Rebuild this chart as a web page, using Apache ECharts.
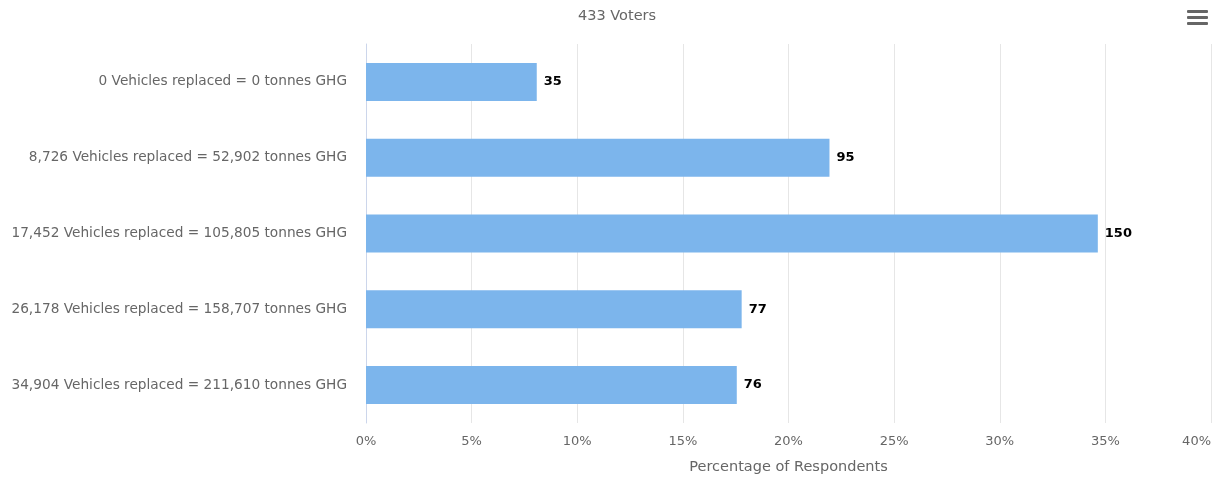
<!DOCTYPE html>
<html><head><meta charset="utf-8">
<script src="https://cdn.jsdelivr.net/npm/echarts@6/dist/echarts.min.js"></script>
<style>html,body{margin:0;padding:0;background:#fff}#c{width:1217px;height:479px}</style>
</head><body><div id="c"></div>
<script>
const categories = [
  "0 Vehicles replaced = 0 tonnes GHG",
  "8,726 Vehicles replaced = 52,902 tonnes GHG",
  "17,452 Vehicles replaced = 105,805 tonnes GHG",
  "26,178 Vehicles replaced = 158,707 tonnes GHG",
  "34,904 Vehicles replaced = 211,610 tonnes GHG"
];
const counts = [35, 95, 150, 77, 76];
const totalVoters = 433;
const xTicks = [0, 5, 10, 15, 20, 25, 30, 35, 40];

const percents = counts.map(c => c / totalVoters * 100);
const FONT = "DejaVu Sans";
const chart = echarts.init(document.getElementById('c'));
chart.setOption({
  animation: false,
  title: {
    text: totalVoters + " Voters", left: 573, top: 4,
    textStyle: { fontFamily: FONT, fontSize: 14.5, fontWeight: 'normal', color: '#666' }
  },
  grid: { left: 366, right: 6, top: 44, bottom: 56, containLabel: false, outerBoundsMode: 'none' },
  xAxis: {
    type: 'value', min: xTicks[0], max: xTicks[xTicks.length - 1], interval: 5,
    name: "Percentage of Respondents", nameLocation: 'middle', nameGap: 37,
    nameTextStyle: { fontFamily: FONT, fontSize: 14.5, color: '#666' },
    axisLine: { show: false }, axisTick: { show: false },
    axisLabel: { formatter: v => v + '%', fontFamily: FONT, fontSize: 13, color: '#666', margin: 12, alignMaxLabel: 'right' },
    splitLine: { lineStyle: { color: '#e6e6e6' } }
  },
  yAxis: {
    type: 'category', data: categories, inverse: true,
    axisLine: { show: true, lineStyle: { color: '#ccd6eb' } },
    axisTick: { show: false },
    axisLabel: { fontFamily: FONT, fontSize: 13.7, color: '#666', margin: 19, padding: [3, 0, 0, 0] }
  },
  series: [{
    type: 'bar', data: percents, barWidth: 38,
    itemStyle: { color: '#7cb5ec' },
    label: {
      show: true, position: 'right', distance: 7,
      formatter: p => counts[p.dataIndex],
      fontFamily: FONT, fontSize: 13, fontWeight: 'bold', color: '#000'
    }
  }],
  graphic: [
    { type: 'rect', left: 1187, top: 10, shape: { width: 21, height: 3, r: 1 }, style: { fill: '#666' } },
    { type: 'rect', left: 1187, top: 16, shape: { width: 21, height: 3, r: 1 }, style: { fill: '#666' } },
    { type: 'rect', left: 1187, top: 22, shape: { width: 21, height: 3, r: 1 }, style: { fill: '#666' } }
  ]
});
</script></body></html>
